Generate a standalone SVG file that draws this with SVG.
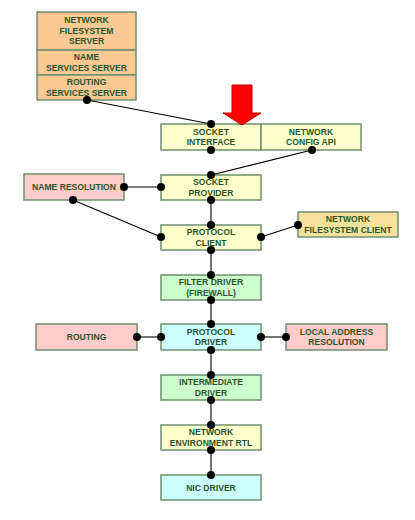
<svg xmlns="http://www.w3.org/2000/svg" width="415" height="520" viewBox="0 0 415 520">
<style>
.b{stroke:#6f8f6f;stroke-width:1.5}
.y{fill:#ffffcc}.o{fill:#fcc995}.p{fill:#ffcccc}.g{fill:#ccffcc}.c{fill:#ccffff}.d{fill:#f8e29b}
text{font-family:"Liberation Sans",Arial,sans-serif;font-weight:bold;font-size:8.6px;fill:#2a552a;text-anchor:middle}
.ln line{stroke:#000;stroke-width:1.1}
.ln circle{fill:#000}
</style>
<rect width="415" height="520" fill="#fff"/>
<g id="nfs-server"><rect class="b o" x="37" y="12" width="99" height="38"/><text x="86.5" y="23">NETWORK</text><text x="86.5" y="33.5">FILESYSTEM</text><text x="86.5" y="44">SERVER</text></g>
<g id="name-services"><rect class="b o" x="37" y="50" width="99" height="25"/><text x="86.5" y="60">NAME</text><text x="86.5" y="70.5">SERVICES SERVER</text></g>
<g id="routing-services"><rect class="b o" x="37" y="75" width="99" height="25"/><text x="86.5" y="85">ROUTING</text><text x="86.5" y="95.5">SERVICES SERVER</text></g>
<g id="socket-interface"><rect class="b y" x="161" y="124" width="100" height="26"/><text x="211" y="134.5">SOCKET</text><text x="211" y="145">INTERFACE</text></g>
<g id="network-config"><rect class="b y" x="261" y="124" width="100" height="26"/><text x="311" y="134.5">NETWORK</text><text x="311" y="145">CONFIG API</text></g>
<g id="name-resolution"><rect class="b p" x="24" y="174" width="100" height="26"/><text x="74" y="190">NAME RESOLUTION</text></g>
<g id="socket-provider"><rect class="b y" x="161" y="175" width="100" height="25"/><text x="211" y="185">SOCKET</text><text x="211" y="195.5">PROVIDER</text></g>
<g id="protocol-client"><rect class="b y" x="161" y="225" width="100" height="25"/><text x="211" y="235">PROTOCOL</text><text x="211" y="245.5">CLIENT</text></g>
<g id="nfs-client"><rect class="b d" x="298" y="212" width="100" height="25"/><text x="348" y="222">NETWORK</text><text x="348" y="232.5">FILESYSTEM CLIENT</text></g>
<g id="filter-driver"><rect class="b g" x="161" y="275" width="100" height="25"/><text x="211" y="285">FILTER DRIVER</text><text x="211" y="295.5">(FIREWALL)</text></g>
<g id="routing"><rect class="b p" x="36" y="324" width="101" height="26"/><text x="86.5" y="340">ROUTING</text></g>
<g id="protocol-driver"><rect class="b c" x="161" y="324" width="100" height="26"/><text x="211" y="334.5">PROTOCOL</text><text x="211" y="345">DRIVER</text></g>
<g id="local-address"><rect class="b p" x="286" y="324" width="101" height="26"/><text x="336.5" y="334.5">LOCAL ADDRESS</text><text x="336.5" y="345">RESOLUTION</text></g>
<g id="intermediate-driver"><rect class="b g" x="161" y="375" width="100" height="25"/><text x="211" y="385">INTERMEDIATE</text><text x="211" y="395.5">DRIVER</text></g>
<g id="net-env-rtl"><rect class="b y" x="161" y="425" width="100" height="25"/><text x="211" y="435">NETWORK</text><text x="211" y="445.5">ENVIRONMENT RTL</text></g>
<g id="nic-driver"><rect class="b c" x="161" y="475" width="100" height="25"/><text x="211" y="490.5">NIC DRIVER</text></g>
<g id="arrow"><polygon points="232,85 252,85 252,113 261,113 242,125 223,113 232,113" fill="#ff0000" stroke="#c00000" stroke-width="1"/></g>
<g id="connectors" class="ln">
<line x1="87" y1="100" x2="211" y2="124"/>
<line x1="312" y1="150" x2="211" y2="175"/>
<line x1="124" y1="187" x2="161" y2="187"/>
<line x1="73" y1="200" x2="161" y2="237"/>
<line x1="211" y1="200" x2="211" y2="225"/>
<line x1="261" y1="237" x2="298" y2="225"/>
<line x1="211" y1="250" x2="211" y2="275"/>
<line x1="211" y1="300" x2="211" y2="324"/>
<line x1="137" y1="337" x2="161" y2="337"/>
<line x1="261" y1="337" x2="286" y2="337"/>
<line x1="211" y1="350" x2="211" y2="375"/>
<line x1="211" y1="400" x2="211" y2="425"/>
<line x1="211" y1="450" x2="211" y2="475"/>
<circle cx="87" cy="100" r="4"/><circle cx="211" cy="124" r="4"/>
<circle cx="211" cy="150" r="4"/><circle cx="312" cy="150" r="4"/>
<circle cx="211" cy="175" r="4"/><circle cx="124" cy="187" r="4"/><circle cx="161" cy="187" r="4"/>
<circle cx="73" cy="200" r="4"/><circle cx="211" cy="200" r="4"/>
<circle cx="211" cy="225" r="4"/><circle cx="161" cy="237" r="4"/><circle cx="261" cy="237" r="4"/><circle cx="298" cy="225" r="4"/>
<circle cx="211" cy="250" r="4"/><circle cx="211" cy="275" r="4"/><circle cx="211" cy="300" r="4"/>
<circle cx="211" cy="324" r="4"/><circle cx="137" cy="337" r="4"/><circle cx="161" cy="337" r="4"/><circle cx="261" cy="337" r="4"/><circle cx="286" cy="337" r="4"/>
<circle cx="211" cy="350" r="4"/><circle cx="211" cy="375" r="4"/><circle cx="211" cy="400" r="4"/>
<circle cx="211" cy="425" r="4"/><circle cx="211" cy="450" r="4"/><circle cx="211" cy="475" r="4"/>
</g>
</svg>
